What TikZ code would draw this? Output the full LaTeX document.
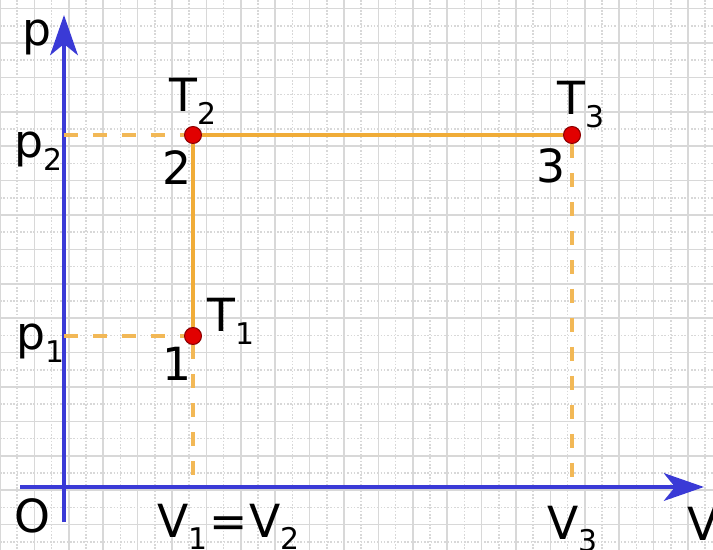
\documentclass[tikz,border=0pt]{standalone}
\usepackage{fontspec}
\setmainfont{DejaVu Sans}
\usetikzlibrary{arrows.meta}
\definecolor{axisblue}{RGB}{58,58,214}
\definecolor{pathorange}{RGB}{240,172,56}
\definecolor{dotred}{RGB}{226,0,0}
\definecolor{gridgray}{RGB}{216,216,216}
\newcommand\lowsub[1]{\raisebox{-0.5ex}{\fontsize{17}{17}\selectfont #1}}

\begin{document}
\begin{tikzpicture}[x=0.02cm,y=-0.02cm,
  every node/.style={font=\fontsize{26}{30}\selectfont,inner sep=0pt,anchor=base west},
  axis/.style={axisblue,line width=2.8pt,-{Stealth[length=0.8cm,width=0.55cm,inset=0.22cm]}},
  proc/.style={pathorange,line width=2.3pt},
  guide/.style={pathorange!85,line width=1.8pt,dash pattern=on 0.28cm off 0.3cm},
  state/.style={circle,fill=dotred,draw=red!55!black,line width=0.6pt,minimum size=0.34cm,inner sep=0pt,anchor=center}]
\useasboundingbox[fill=white] (0,0) rectangle (713,550);

% squared paper
\begin{scope}
\clip (0,0) rectangle (713,550);
\foreach \k in {0,...,20} {
  \draw[gridgray,line width=0.9pt] (\k*34.4,0) -- (\k*34.4,550);
  \draw[gridgray,line width=0.9pt,densely dotted] (\k*34.4+17.2,0) -- (\k*34.4+17.2,550);
}
\foreach \k in {0,...,16} {
  \draw[gridgray,line width=0.9pt] (0,8.6+\k*34.4) -- (713,8.6+\k*34.4);
  \draw[gridgray,line width=0.9pt,densely dotted] (0,25.8+\k*34.4) -- (713,25.8+\k*34.4);
}
\end{scope}

% axes
\coordinate (ybase) at (64,522);
\coordinate (ytip) at (64,15);
\coordinate (xbase) at (20,487);
\coordinate (xtip) at (704,487);
\draw[axis] (ybase) -- (ytip);
\draw[axis] (xbase) -- (xtip);

% states
\coordinate (p1y) at (64,336);
\coordinate (p2y) at (64,135);
\coordinate (v1x) at (193,480);
\coordinate (v3x) at (572,487);
\node[state] (s1) at (193,336) {};
\node[state] (s2) at (193,135) {};
\node[state] (s3) at (572,135) {};
\draw[guide] (p1y) -- (s1);
\draw[guide] (p2y) -- (s2);
\draw[guide] (s1) -- (v1x);
\draw[guide] (s3) -- (v3x);
\draw[proc] (s1) -- (s2);
\draw[proc] (s2) -- (s3);

% labels
\node (plab) at (22,46) {p};
\node (p2lab) at (14,158) {p\lowsub{2}};
\node (p1lab) at (16,350) {p\lowsub{1}};
\node (olab) at (14,532) {O};
\node (v12lab) at (157,537) {V\lowsub{1}\kern1pt=\kern1pt V\lowsub{2}};
\node (v3lab) at (547,539) {V\lowsub{3}};
\node (vlab) at (687,540) {V};
\node (t1lab) at (207,332) {T\lowsub{1}};
\node (t2lab) at (169,112) {T\lowsub{2}};
\node (t3lab) at (557,115) {T\lowsub{3}};
\node (n1lab) at (162,380) {1};
\node (n2lab) at (162,185) {2};
\node (n3lab) at (536,183) {3};
\end{tikzpicture}
\end{document}
